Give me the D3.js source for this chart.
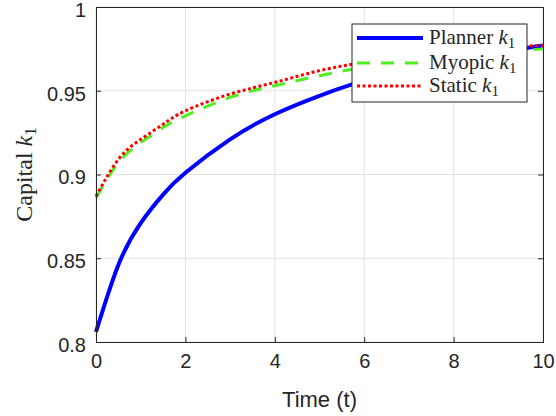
<!DOCTYPE html>
<html>
<head>
<meta charset="utf-8">
<script src="https://cdn.jsdelivr.net/npm/d3@7"></script>
<style>
  html, body { margin: 0; padding: 0; background: #fff; }
  svg { display: block; }
</style>
</head>
<body>
<script>
// ---- data ----
const times      = [0, 0.5, 1, 1.5, 2, 3, 4, 5, 6, 7, 8, 9, 10];
const planner    = [0.806, 0.846, 0.871, 0.888, 0.901, 0.921, 0.936, 0.947, 0.956, 0.963, 0.969, 0.973, 0.977];
const myopic     = [0.886, 0.907, 0.919, 0.928, 0.935, 0.946, 0.953, 0.959, 0.964, 0.968, 0.971, 0.973, 0.975];
const staticK    = [0.887, 0.909, 0.921, 0.930, 0.938, 0.948, 0.955, 0.962, 0.967, 0.971, 0.974, 0.976, 0.977];
const xTicks     = [0, 2, 4, 6, 8, 10];
const yTicks     = [0.8, 0.85, 0.9, 0.95, 1];
const yTickLabels = ["0.8", "0.85", "0.9", "0.95", "1"];
const seriesNames = ["Planner", "Myopic", "Static"];

const W = 556, H = 416;
const m = {left: 96, right: 13, top: 7, bottom: 74};
const iw = W - m.left - m.right, ih = H - m.top - m.bottom;

const svg = d3.select("body").append("svg").attr("width", W).attr("height", H);
const g = svg.append("g").attr("transform", `translate(${m.left},${m.top})`);

const x = d3.scaleLinear().domain([0, 10]).range([0, iw]);
const y = d3.scaleLinear().domain([0.8, 1]).range([ih, 0]);

// grid
g.append("g").selectAll("line").data(xTicks).join("line")
  .attr("x1", d => x(d)).attr("x2", d => x(d)).attr("y1", 0).attr("y2", ih)
  .attr("stroke", "#e3e3e3").attr("stroke-width", 1);
g.append("g").selectAll("line").data(yTicks).join("line")
  .attr("y1", d => y(d)).attr("y2", d => y(d)).attr("x1", 0).attr("x2", iw)
  .attr("stroke", "#e3e3e3").attr("stroke-width", 1);

// lines
const line = d3.line().x(d => x(d[0])).y(d => y(d[1])).curve(d3.curveNatural);
const series = [
  {name: seriesNames[0], vals: planner, color: "#0000ff", width: 4, dash: null},
  {name: seriesNames[1], vals: myopic,  color: "#4cf01e", width: 3, dash: "13,11"},
  {name: seriesNames[2], vals: staticK, color: "#ff0000", width: 3, dash: "3,2.5"}
];
svg.append("clipPath").attr("id", "clip").append("rect")
  .attr("x", -3).attr("y", -3).attr("width", iw + 6).attr("height", ih + 6);
series.forEach(s => {
  g.append("path")
    .datum(times.map((t, i) => [t, s.vals[i]]))
    .attr("d", line)
    .attr("fill", "none")
    .attr("stroke", s.color)
    .attr("stroke-width", s.width)
    .attr("stroke-dasharray", s.dash)
    .attr("clip-path", "url(#clip)");
});

// axes
const axisColor = "#262626";
const xAxis = d3.axisBottom(x).tickValues(xTicks).tickSize(-5).tickPadding(12).tickFormat(d3.format("d"));
const yAxis = d3.axisLeft(y).tickValues(yTicks).tickSize(-5).tickPadding(10).tickFormat((d, i) => yTickLabels[i]);
const xa = g.append("g").attr("transform", `translate(0,${ih})`).call(xAxis);
const ya = g.append("g").call(yAxis);
const xTop = g.append("g").call(d3.axisTop(x).tickValues(xTicks).tickSize(0).tickFormat(""));
const yRight = g.append("g").attr("transform", `translate(${iw},0)`).call(d3.axisRight(y).tickValues(yTicks).tickSize(-5).tickFormat(""));
[xa, ya, xTop, yRight].forEach(a => {
  a.selectAll("path.domain").attr("stroke", axisColor).attr("stroke-width", 1);
  a.selectAll(".tick line").attr("stroke", axisColor);
  a.selectAll("text").attr("fill", "#262626")
    .style("font-family", "Liberation Sans, Arial, sans-serif").style("font-size", "20px");
});
ya.selectAll("text").attr("dy", "0.47em");

// axis labels
svg.append("text")
  .attr("x", m.left + iw / 2).attr("y", 407)
  .attr("text-anchor", "middle")
  .style("font-family", "Liberation Sans, Arial, sans-serif").style("font-size", "22px")
  .attr("fill", "#262626")
  .text("Time (t)");

const yl = svg.append("text")
  .attr("transform", `translate(32,${m.top + ih / 2}) rotate(-90)`)
  .attr("text-anchor", "middle")
  .style("font-family", "Liberation Serif, Times New Roman, serif").style("font-size", "24px")
  .attr("fill", "#262626");
yl.append("tspan").text("Capital ");
yl.append("tspan").style("font-style", "italic").text("k");
yl.append("tspan").attr("dy", 4).style("font-size", "17px").text("1");

// legend
const lg = svg.append("g").attr("transform", "translate(352,24)");
lg.append("rect").attr("width", 175).attr("height", 78)
  .attr("fill", "#fff").attr("stroke", axisColor).attr("stroke-width", 1);
const rowsY = [14, 39, 62];
series.forEach((s, i) => {
  lg.append("line")
    .attr("x1", 5).attr("x2", 71).attr("y1", rowsY[i]).attr("y2", rowsY[i])
    .attr("stroke", s.color).attr("stroke-width", s.width)
    .attr("stroke-dasharray", s.dash);
  const t = lg.append("text")
    .attr("x", 77).attr("y", rowsY[i] + 6)
    .style("font-family", "Liberation Serif, Times New Roman, serif").style("font-size", "21px")
    .attr("fill", "#262626");
  t.append("tspan").text(s.name + " ");
  t.append("tspan").style("font-style", "italic").text("k");
  t.append("tspan").attr("dy", 4).style("font-size", "15px").text("1");
});
</script>
</body>
</html>
